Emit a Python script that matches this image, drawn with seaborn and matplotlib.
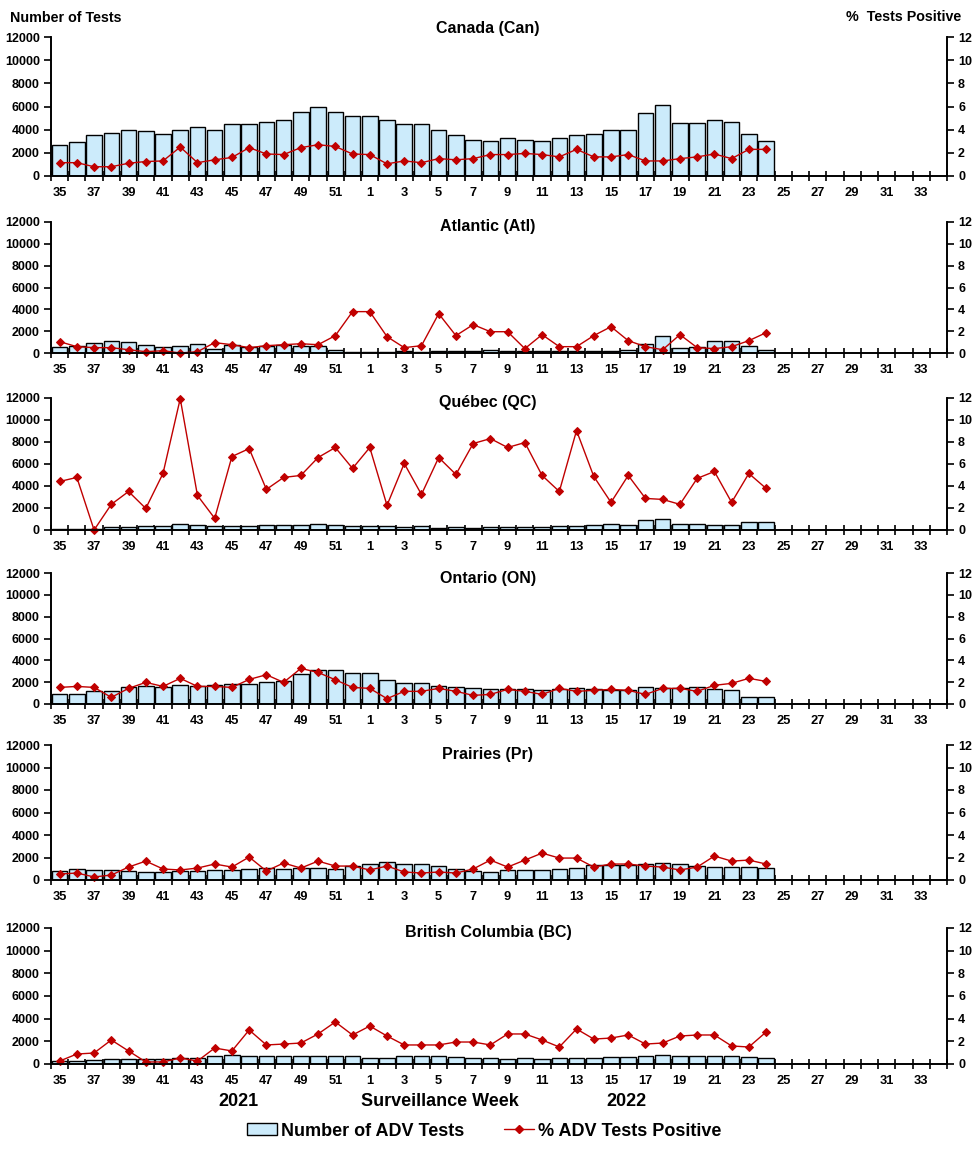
import matplotlib
matplotlib.use("Agg")
import matplotlib.pyplot as plt
import seaborn as sns
import pandas as pd
from matplotlib.patches import Patch
from matplotlib.lines import Line2D

# ---------------- data ----------------
weeks = [str(w) for w in list(range(35, 53)) + list(range(1, 35))]
data_weeks = weeks[:42]  # 35..52, 1..24

regions = ["Canada (Can)", "Atlantic (Atl)", "Québec (QC)", "Ontario (ON)",
           "Prairies (Pr)", "British Columbia (BC)"]

can_tests = [2650, 2900, 3500, 3750, 4000, 3850, 3600, 4000, 4200, 3950, 4450, 4450, 4700, 4800, 5550, 6000, 5500, 5150,
             5150, 4800, 4450, 4450, 3950, 3500, 3150, 3050, 3250, 3150, 3050, 3250, 3500, 3650, 3950, 3950, 5400, 6150,
             4550, 4550, 4800, 4700, 3650, 3050]
can_pct = [1.15, 1.15, 0.8, 0.8, 1.1, 1.25, 1.3, 2.5, 1.15, 1.4, 1.6, 2.45, 1.9, 1.85, 2.45, 2.7, 2.55, 1.9,
           1.85, 1.05, 1.3, 1.15, 1.5, 1.4, 1.5, 1.85, 1.85, 1.95, 1.85, 1.65, 2.3, 1.65, 1.65, 1.85, 1.3, 1.3,
           1.5, 1.65, 1.9, 1.5, 2.3, 2.3]

atl_tests = [580, 670, 950, 1130, 1040, 760, 580, 670, 850, 400, 760, 580, 670, 760, 670, 670, 300, 120,
             120, 120, 210, 120, 210, 210, 210, 300, 210, 210, 210, 210, 210, 210, 210, 300, 850, 1590,
             490, 580, 1130, 1130, 670, 300]
atl_pct = [1.04, 0.58, 0.49, 0.49, 0.3, 0.12, 0.21, 0.0, 0.12, 0.95, 0.76, 0.49, 0.67, 0.76, 0.85, 0.76, 1.59, 3.79,
           3.79, 1.5, 0.49, 0.67, 3.6, 1.59, 2.6, 1.95, 1.95, 0.4, 1.68, 0.58, 0.58, 1.59, 2.41, 1.13, 0.58, 0.3,
           1.68, 0.49, 0.4, 0.58, 1.13, 1.86]

qc_tests = [100, 100, 100, 270, 270, 360, 360, 540, 450, 360, 360, 360, 450, 450, 450, 540, 450, 360,
            360, 360, 270, 360, 180, 270, 180, 270, 270, 270, 270, 360, 360, 450, 540, 450, 880, 970,
            540, 540, 450, 450, 700, 700]
qc_pct = [4.41, 4.78, 0.0, 2.33, 3.5, 1.96, 5.14, 11.94, 3.14, 1.06, 6.68, 7.4, 3.69, 4.78, 4.96, 6.59, 7.5, 5.6,
          7.5, 2.24, 6.05, 3.23, 6.59, 5.05, 7.86, 8.31, 7.5, 7.95, 4.96, 3.5, 9.04, 4.87, 2.51, 4.96, 2.87, 2.78,
          2.33, 4.69, 5.32, 2.51, 5.14, 3.78]

on_tests = [880, 880, 1160, 1160, 1520, 1610, 1520, 1710, 1610, 1710, 1800, 1800, 1980, 2070, 2710, 3080, 3080, 2800,
            2800, 2160, 1890, 1890, 1610, 1520, 1430, 1340, 1340, 1340, 1250, 1340, 1430, 1340, 1250, 1250, 1520, 1430,
            1430, 1520, 1340, 1250, 610, 610]
on_pct = [1.52, 1.61, 1.52, 0.61, 1.43, 1.98, 1.61, 2.35, 1.61, 1.61, 1.52, 2.25, 2.68, 1.98, 3.26, 2.89, 2.22, 1.52,
          1.43, 0.49, 1.16, 1.16, 1.43, 1.16, 0.79, 0.88, 1.34, 1.16, 0.88, 1.43, 1.16, 1.25, 1.34, 1.25, 0.88, 1.43,
          1.43, 1.16, 1.71, 1.89, 2.35, 2.07]

pr_tests = [770, 980, 890, 890, 770, 680, 680, 770, 770, 890, 890, 980, 1060, 980, 1060, 1060, 980, 1240,
            1420, 1600, 1420, 1420, 1240, 980, 770, 680, 890, 890, 890, 980, 1060, 1330, 1330, 1330, 1420, 1510,
            1420, 1240, 1150, 1150, 1150, 1060]
pr_pct = [0.53, 0.62, 0.27, 0.44, 1.15, 1.68, 0.98, 0.89, 1.06, 1.42, 1.15, 2.04, 0.8, 1.51, 1.06, 1.68, 1.24, 1.24,
          0.89, 1.24, 0.71, 0.62, 0.71, 0.62, 0.98, 1.77, 1.15, 1.77, 2.39, 1.95, 1.95, 1.15, 1.42, 1.42, 1.24, 1.15,
          0.89, 1.15, 2.13, 1.68, 1.77, 1.42]

bc_tests = [260, 260, 350, 440, 440, 440, 440, 530, 530, 710, 790, 710, 710, 710, 710, 710, 710, 710,
            530, 530, 710, 710, 710, 620, 530, 530, 440, 530, 440, 530, 530, 530, 620, 620, 710, 790,
            710, 710, 710, 710, 620, 530]
bc_pct = [0.26, 0.88, 0.97, 2.12, 1.15, 0.18, 0.18, 0.53, 0.26, 1.41, 1.15, 3.0, 1.68, 1.76, 1.85, 2.65, 3.71, 2.56,
          3.35, 2.47, 1.68, 1.68, 1.68, 1.94, 1.94, 1.68, 2.65, 2.65, 2.12, 1.5, 3.09, 2.2, 2.29, 2.56, 1.76, 1.85,
          2.47, 2.56, 2.56, 1.59, 1.5, 2.82]

tests = [can_tests, atl_tests, qc_tests, on_tests, pr_tests, bc_tests]
pcts = [can_pct, atl_pct, qc_pct, on_pct, pr_pct, bc_pct]

left_ticks = [0, 2000, 4000, 6000, 8000, 10000, 12000]
right_ticks = [0, 2, 4, 6, 8, 10, 12]

# ---------------- style ----------------
sns.set_style("ticks")
plt.rcParams["font.family"] = ["Liberation Sans", "DejaVu Sans"]
plt.rcParams["font.weight"] = "bold"
for key in ("text.color", "axes.labelcolor", "xtick.color", "ytick.color", "axes.edgecolor"):
    plt.rcParams[key] = "black"

BAR_COLOR = "#CCEBFB"
LINE_COLOR = "#C00000"

W, H = 976, 1152
fig = plt.figure(figsize=(W / 100, H / 100), dpi=100)

# panel pixel extents (top, bottom) and title y
panels = [(37, 176, 28), (222, 353, 227), (398, 530, 403), (573, 704, 579), (745, 880, 755), (928, 1064, 932)]
x0, x1 = 51, 947

for i, (top, bot, ty) in enumerate(panels):
    ax = fig.add_axes([x0 / W, 1 - bot / H, (x1 - x0) / W, (bot - top) / H])
    df = pd.DataFrame({"week": data_weeks, "tests": tests[i], "pct": pcts[i]})
    sns.barplot(data=df, x="week", y="tests", order=weeks, color=BAR_COLOR, saturation=1,
                edgecolor="black", linewidth=1.0, width=0.9, ax=ax, errorbar=None)
    ax2 = ax.twinx()
    sns.pointplot(data=df, x="week", y="pct", order=weeks, color=LINE_COLOR, markers="D",
                  linestyles="-", markersize=4, linewidth=1.0, errorbar=None, ax=ax2)
    for ln in ax2.lines:
        ln.set_clip_on(False)
    ax.set_xlim(-0.5, len(weeks) - 0.5)
    ax.set_ylim(0, 12000)
    ax2.set_ylim(0, 12)
    ax.set_yticks(left_ticks)
    ax.set_yticklabels([str(t) for t in left_ticks])
    ax2.set_yticks(right_ticks)
    ax2.set_yticklabels([str(t) for t in right_ticks])
    # x ticks: labels at every other category center, tick marks at boundaries
    ax.set_xticks(range(0, len(weeks), 2))
    ax.set_xticklabels([weeks[k] for k in range(0, len(weeks), 2)])
    ax.set_xticks([k - 0.5 for k in range(len(weeks) + 1)], minor=True)
    ax.tick_params(axis="x", which="major", length=0, labelsize=9.3, pad=8, colors="black")
    ax.tick_params(axis="x", which="minor", length=7, direction="inout", width=1.2, colors="black")
    ax.tick_params(axis="y", length=5, width=1.2, labelsize=9, direction="out", pad=3, colors="black")
    ax2.tick_params(axis="y", length=5, width=1.2, labelsize=9, direction="out", pad=3, colors="black")
    for a in (ax, ax2):
        a.set_xlabel("")
        a.set_ylabel("")
        a.spines["top"].set_visible(False)
        for s in ("left", "right", "bottom"):
            a.spines[s].set_linewidth(1.2)
            a.spines[s].set_color("black")
        for lab in a.get_xticklabels() + a.get_yticklabels():
            lab.set_fontweight("bold")
    fig.text(488 / W, 1 - ty / H, regions[i], ha="center", va="center",
             fontsize=11.5, fontweight="bold", color="black")

fig.text(10 / W, 1 - 18 / H, "Number of Tests", ha="left", va="center", fontsize=10.3, fontweight="bold")
fig.text(904 / W, 1 - 17 / H, "%  Tests Positive", ha="center", va="center", fontsize=10.3, fontweight="bold")

fig.text(238 / W, 1 - 1102 / H, "2021", ha="center", va="center", fontsize=13, fontweight="bold")
fig.text(440 / W, 1 - 1102 / H, "Surveillance Week", ha="center", va="center", fontsize=13, fontweight="bold")
fig.text(626 / W, 1 - 1102 / H, "2022", ha="center", va="center", fontsize=13, fontweight="bold")

handles = [Patch(facecolor=BAR_COLOR, edgecolor="black", linewidth=1.0),
           Line2D([0], [0], color=LINE_COLOR, marker="D", markersize=4, linewidth=1.0)]
fig.legend(handles, ["Number of ADV Tests", "% ADV Tests Positive"], loc="center",
           bbox_to_anchor=(484 / W, 1 - 1131 / H), ncol=2, frameon=False,
           prop={"weight": "bold", "size": 13}, handlelength=1.7, handletextpad=0.2,
           columnspacing=2.2, handleheight=0.6)

fig.savefig("out.png", dpi=100)
